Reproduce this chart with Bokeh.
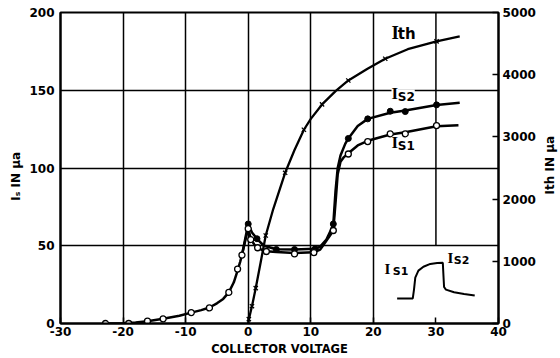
import math
from bokeh.plotting import figure
from bokeh.layouts import row
from bokeh.models import Range1d, LinearAxis, FixedTicker, Label
from bokeh.core.properties import value
from bokeh.embed import file_html
from bokeh.resources import INLINE

# ---------------- data ----------------
x_ticks = [-30, -20, -10, 0, 10, 20, 30, 40]
x_tick_labels = ["-30", "-20", "-10", "0", "10", "20", "30", "40"]
y_ticks = [0, 50, 100, 150, 200]
ith_ticks = [0, 1000, 2000, 3000, 4000, 5000]
grid_x_full = [-20, -10, 0, 10, 20]
grid_x_part = [30]
grid_x_part_from = [50]
grid_y = [50, 100, 150]

# I_S1 (open circles), microamps, left axis
is1_x = [-22.8, -19.1, -16.1, -13.6, -9.1, -6.2, -3.1, -1.7, -1.0, 0.0, 0.4, 1.5, 2.9, 7.4, 10.5, 13.6, 16.0, 19.1, 22.7, 25.1, 30.1]
is1_y = [0, 0, 1.5, 3, 7, 10, 20, 35, 44, 61, 54, 48.7, 46.3, 44.8, 45.6, 59.8, 109, 117, 122, 122, 127.3]
is1_curve_x = [-22.8, -20, -18, -16.1, -13.6, -11, -9.1, -7.5, -6.2, -5, -4, -3.1, -2.3, -1.7, -1.3, -1.0, -0.6, -0.2, 0.0,
               0.4, 1.0, 1.5, 2.2, 2.9, 4.5, 7.4, 10.5, 11.5, 12.1, 13.15, 13.6, 14.0, 14.3, 14.75, 15.3, 16.0, 17.5, 19.1, 22.7, 25.1, 30.1, 33.6]
is1_curve_y = [0, 0.2, 0.7, 1.5, 3, 5, 7, 8.6, 10.3, 13, 15.8, 20, 26.5, 34, 39.5, 44, 51, 58, 61.5,
               54.5, 50.5, 48.7, 47.3, 46.5, 46, 45.3, 45.8, 47.5, 51, 57, 60, 80, 96, 104, 107, 109.5, 114.5, 117.5, 121.5, 123, 126.8, 127.5]

# I_S2 (filled dots), microamps, left axis
is2_x = [0.0, 1.4, 4.5, 7.4, 10.7, 13.6, 16.0, 19.1, 22.7, 25.1, 30.1]
is2_y = [64, 54.5, 47.6, 47.6, 48, 64, 119, 131.6, 136.5, 136.3, 140.6]
is2_curve_x = [-1.0, -0.5, 0.0, 0.6, 1.4, 2.5, 4.5, 7.4, 10.7, 11.5, 12.5, 13.2, 13.6, 13.95, 14.3, 14.75, 15.5, 16.0, 17.5, 19.1, 22.7, 25.1, 30.1, 33.8]
is2_curve_y = [44, 54, 64, 58.5, 54.5, 50, 47.8, 47.6, 48, 49.5, 54, 60, 64, 85, 100, 108, 115.5, 119, 127, 131.6, 135.5, 137, 140.5, 142]

# I_th (crosses), microamps, right axis
ith_x = [0.1, 0.6, 1.2, 2.8, 5.9, 8.9, 11.8, 16.0, 21.9, 30.1]
ith_y = [70, 278, 568, 1415, 2423, 3115, 3522, 3907, 4256, 4535]
ith_curve_x = [0.0, 0.1, 0.6, 1.2, 2.0, 2.8, 4.0, 5.9, 7.4, 8.9, 10.0, 11.8, 14.0, 16.0, 19.0, 21.9, 25.5, 30.1, 33.8]
ith_curve_y = [0, 70, 278, 568, 990, 1415, 1840, 2423, 2790, 3115, 3290, 3522, 3740, 3907, 4090, 4256, 4410, 4535, 4615]

# inset pulse sketch (left-axis units)
inset_x = [23.8, 26.3, 26.5, 26.7, 27.2, 28.0, 29.1, 30.2, 31.1, 31.2, 31.3, 31.6, 32.9, 34.5, 36.2]
inset_y = [16.1, 16.1, 22.0, 29.5, 34.0, 36.5, 38.3, 38.9, 39.0, 31.0, 23.5, 21.8, 20.1, 19.0, 18.0]

right_title = "Ith   IN   μa"
left_title = "Iₛ   IN   μa"

# ---------------- main figure ----------------
p = figure(width=540, height=358, x_range=Range1d(-30, 40), y_range=Range1d(0, 200),
           output_backend="svg", toolbar_location=None,
           min_border_left=60, min_border_right=42, min_border_top=12, min_border_bottom=35,
           background_fill_color="white", border_fill_color="white")
p.extra_y_ranges = {"ith": Range1d(0, 5000)}
p.outline_line_color = "black"
p.outline_line_width = 2

TICK_FONT = "DejaVu Sans"

xa = p.xaxis[0]
xa.ticker = FixedTicker(ticks=x_ticks)
xa.major_label_overrides = {t: s for t, s in zip(x_ticks, x_tick_labels)}
xa.axis_label = "COLLECTOR VOLTAGE"

ya = p.yaxis[0]
ya.ticker = FixedTicker(ticks=y_ticks)
ya.axis_label = left_title

ra = LinearAxis(y_range_name="ith", ticker=FixedTicker(ticks=ith_ticks))
p.add_layout(ra, "right")

for ax in (xa, ya, ra):
    ax.axis_line_color = "black"
    ax.axis_line_width = 2
    ax.major_tick_line_color = "black"
    ax.major_tick_line_width = 1.5
    ax.minor_tick_line_color = None
    ax.major_tick_out = 0
    ax.major_label_text_font = TICK_FONT
    ax.major_label_text_font_style = "bold"
    ax.major_label_text_font_size = "12px"
    ax.major_label_text_color = "black"
    ax.axis_label_text_font = TICK_FONT
    ax.axis_label_text_font_style = "bold"
    ax.axis_label_text_font_size = "11.5px"
    ax.axis_label_text_color = "black"

ya.axis_label_text_font_size = "12px"
xa.major_tick_in = 6
xa.major_label_standoff = 3
xa.axis_label_standoff = 3
ya.major_tick_in = 0
ya.major_label_standoff = 6
ya.axis_label_standoff = 3
ra.major_tick_in = 6
ra.major_label_standoff = 4

p.xgrid.ticker = FixedTicker(ticks=grid_x_full)
p.ygrid.ticker = FixedTicker(ticks=grid_y)
for g in (p.xgrid[0], p.ygrid[0]):
    g.grid_line_color = "black"
    g.grid_line_width = 1.5
    g.grid_line_alpha = 1.0

# partial vertical grid line at x=30 (stops above the inset)
p.segment(x0=grid_x_part, y0=grid_x_part_from, x1=grid_x_part, y1=[y_ticks[-1]] * len(grid_x_part),
          line_color="black", line_width=1.5, level="underlay")

# ---------------- curves ----------------
p.line(ith_curve_x, ith_curve_y, y_range_name="ith", line_color="black", line_width=2.3)
p.line(is2_curve_x, is2_curve_y, line_color="black", line_width=2.5)
p.line(is1_curve_x, is1_curve_y, line_color="black", line_width=2.5)

p.scatter(ith_x, ith_y, y_range_name="ith", marker="x", size=6, line_color="black", line_width=1.3)
p.scatter(is2_x, is2_y, marker="circle", size=6, fill_color="black", line_color="black")
p.scatter(is1_x, is1_y, marker="circle", size=6, fill_color="white", line_color="black", line_width=1.3)

# inset
p.line(inset_x, inset_y, line_color="black", line_width=2)

# ---------------- labels ----------------
def add_label(x, y, main, sub, main_size, sub_size, sub_dx, sub_dy=0.0, bg=None):
    p.add_layout(Label(x=x, y=y, text=main, text_font="Liberation Serif", text_font_style="bold",
                       text_font_size=main_size, text_color="black", background_fill_color=bg))
    p.add_layout(Label(x=x + sub_dx, y=y + sub_dy, text=sub, text_font=TICK_FONT, text_font_style="bold",
                       text_font_size=sub_size, text_color="black", background_fill_color=bg))

add_label(22.9, 180.7, "I", "th", "19px", "15px", 1.0)
add_label(22.9, 142.0, "I", "S2", "17px", "12px", 1.0, -0.6, bg="white")
add_label(22.9, 110.5, "I", "S1", "17px", "12px", 1.0, -0.6)
add_label(21.8, 29.6, "I", "S1", "15px", "11px", 1.3, -0.6)
add_label(31.85, 36.7, "I", "S2", "15px", "11px", 1.0, -0.6)

# ---------------- narrow strip holding the right-axis title (reads bottom-to-top) ----------------
t = figure(width=20, height=358, x_range=Range1d(0, 1), y_range=Range1d(0, 1),
           output_backend="svg", toolbar_location=None, x_axis_type=None, y_axis_type=None,
           min_border=0, background_fill_color="white", border_fill_color="white")
t.outline_line_color = None
t.grid.visible = False
t.text(x=[0.45], y=[0.536], text=[right_title], angle=math.pi / 2,
       text_align="center", text_baseline="middle",
       text_font=value(TICK_FONT), text_font_style="bold", text_font_size="12px", text_color="black")

layout = row(p, t)
open("out.html", "w").write(file_html(layout, INLINE))
